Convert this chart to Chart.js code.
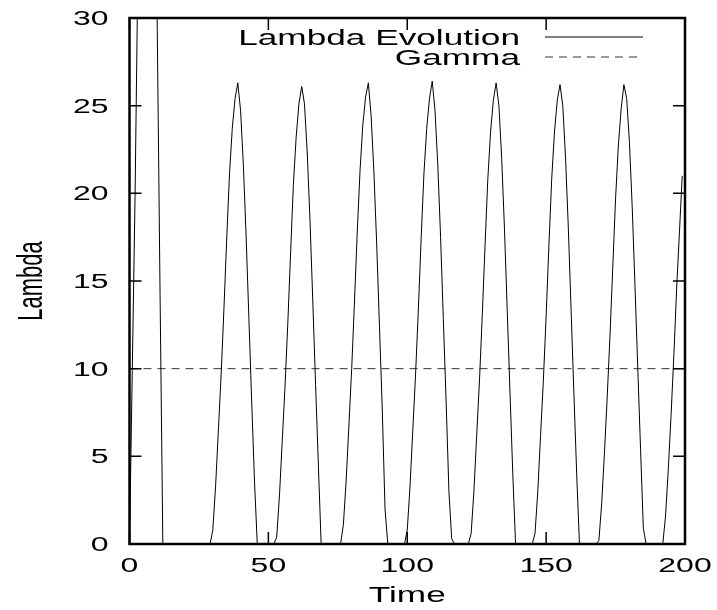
<!DOCTYPE html>
<html>
<head>
<meta charset="utf-8">
<script src="https://cdn.jsdelivr.net/npm/chart.js@4"></script>
<style>
  html, body { margin: 0; padding: 0; background: #fff; }
  canvas { display: block; }
</style>
</head>
<body>
<canvas id="lambdaChart" width="717" height="610"></canvas>
<script>
// Lambda sampled once per time unit, t = 0 .. 199
const lambdaValues = [
  0, 9.9, 19.8, 32.5, 46, 58, 66, 67, 60, 45, 29.3, 14.3, 0,
  0, 0, 0, 0, 0, 0, 0, 0, 0, 0, 0, 0, 0, 0, 0, 0,
  0, 0.8, 3.3, 6.5, 9.7, 13.4, 17.4, 21.1, 23.7, 25.4, 26.3, 24.7, 21.6, 17.5, 12.8, 8.1, 3.6, 0,
  0, 0, 0, 0, 0, 0,
  0.4, 2.8, 5.9, 9.0, 12.6, 16.6, 20.5, 23.2, 25.1, 26.1, 25.1, 22.3, 18.4, 13.8, 9.1, 4.5, 0,
  0, 0, 0, 0, 0, 0, 0,
  1.1, 3.6, 6.8, 10.0, 13.8, 17.8, 21.3, 23.9, 25.5, 26.3, 24.4, 21.2, 17.1, 12.4, 7.7, 2.0, 0,
  0, 0, 0, 0, 0, 0,
  0.8, 3.3, 6.5, 9.7, 13.4, 17.4, 21.1, 23.7, 25.4, 26.4, 24.7, 21.6, 17.5, 12.8, 8.1, 3.0, 0.3,
  0, 0, 0, 0, 0, 0,
  0.6, 3.0, 6.2, 9.3, 13.0, 17.0, 20.8, 23.5, 25.3, 26.3, 25.0, 22.0, 18.0, 13.3, 8.6, 4.0, 0,
  0, 0, 0, 0, 0, 0,
  0.6, 3.0, 6.2, 9.3, 13.0, 17.0, 20.8, 23.5, 25.3, 26.2, 25.0, 22.0, 18.0, 13.3, 8.6, 4.0, 0,
  0, 0, 0, 0, 0, 0,
  0.2, 2.3, 5.2, 8.4, 11.9, 15.8, 19.7, 22.7, 24.8, 26.2, 25.4, 22.9, 19.2, 14.7, 10.0, 5.4, 0.9, 0,
  0, 0, 0, 0, 0, 0,
  1.6, 4.3, 7.4, 10.8, 14.6, 17.8, 21.0
];
const gammaTimes = [0, 200];
const gammaValues = [10, 10];
const xTicks = [0, 50, 100, 150, 200];
const yTicks = [0, 5, 10, 15, 20, 25, 30];
const seriesNames = ['Lambda Evolution', 'Gamma'];
const xTitle = 'Time';
const yTitle = 'Lambda';

const FONT = '"Liberation Sans", Arial, sans-serif';
const STRETCH = 1.6;

// gnuplot-style text is wide, so stretch it horizontally
function wideText(ctx, text, x, y, size, align, rotate) {
  ctx.save();
  ctx.translate(x, y);
  ctx.scale(STRETCH, 1);
  if (rotate) ctx.rotate(-Math.PI / 2);
  ctx.font = size + 'px ' + FONT;
  ctx.fillStyle = '#000';
  ctx.textAlign = align;
  ctx.textBaseline = 'alphabetic';
  ctx.fillText(text, 0, 0);
  ctx.restore();
}

const framePlugin = {
  id: 'frame',
  afterDatasetsDraw(chart) {
    const { ctx, chartArea: a, scales: { x, y } } = chart;
    const tl = 12;
    ctx.save();
    ctx.strokeStyle = '#000';
    ctx.lineWidth = 1.5;
    ctx.beginPath();
    x.ticks.forEach(t => {
      const px = x.getPixelForValue(t.value);
      ctx.moveTo(px, a.bottom); ctx.lineTo(px, a.bottom - tl);
      ctx.moveTo(px, a.top); ctx.lineTo(px, a.top + tl);
    });
    y.ticks.forEach(t => {
      const py = y.getPixelForValue(t.value);
      ctx.moveTo(a.left, py); ctx.lineTo(a.left + tl, py);
      ctx.moveTo(a.right, py); ctx.lineTo(a.right - tl, py);
    });
    ctx.stroke();
    ctx.lineWidth = 2.5;
    ctx.strokeRect(a.left, a.top, a.right - a.left, a.bottom - a.top);

    // tick labels
    x.ticks.forEach(t => {
      wideText(ctx, String(t.value), x.getPixelForValue(t.value), a.bottom + 28, 20, 'center');
    });
    y.ticks.forEach(t => {
      wideText(ctx, String(t.value), a.left - 21, y.getPixelForValue(t.value) + 7, 20, 'right');
    });

    // axis titles
    wideText(ctx, xTitle, (a.left + a.right) / 2, 602, 22, 'center');
    wideText(ctx, yTitle, 42, (a.top + a.bottom) / 2, 22, 'center', true);

    // legend
    const rows = [a.top + 19, a.top + 39];
    ctx.lineWidth = 1;
    seriesNames.forEach((name, i) => {
      wideText(ctx, name, a.right - 165, rows[i] + 8, 22, 'right');
      const ds = chart.data.datasets[i];
      ctx.strokeStyle = ds.borderColor;
      ctx.setLineDash(ds.borderDash || []);
      ctx.beginPath();
      ctx.moveTo(a.right - 140, rows[i]);
      ctx.lineTo(a.right - 42, rows[i]);
      ctx.stroke();
    });
    ctx.restore();
  }
};

new Chart(document.getElementById('lambdaChart'), {
  type: 'line',
  data: {
    datasets: [
      {
        label: seriesNames[0],
        data: lambdaValues.map((v, i) => ({ x: i, y: v })),
        borderColor: '#000',
        borderWidth: 1,
        pointRadius: 0,
        tension: 0
      },
      {
        label: seriesNames[1],
        data: gammaTimes.map((t, i) => ({ x: t, y: gammaValues[i] })),
        borderColor: '#333',
        borderWidth: 1,
        borderDash: [8, 6],
        pointRadius: 0
      }
    ]
  },
  options: {
    responsive: false,
    animation: false,
    devicePixelRatio: 1,
    layout: { padding: { top: 18, right: 32, left: 0, bottom: 0 } },
    plugins: { legend: { display: false }, tooltip: { enabled: false } },
    scales: {
      x: {
        type: 'linear',
        min: 0,
        max: 200,
        grid: { display: false },
        border: { display: false },
        ticks: { display: false },
        afterBuildTicks: s => { s.ticks = xTicks.map(v => ({ value: v })); },
        afterFit: s => { s.height = 66; }
      },
      y: {
        min: 0,
        max: 30,
        grid: { display: false },
        border: { display: false },
        ticks: { display: false },
        afterBuildTicks: s => { s.ticks = yTicks.map(v => ({ value: v })); },
        afterFit: s => { s.width = 129.5; }
      }
    }
  },
  plugins: [framePlugin]
});
</script>
</body>
</html>
